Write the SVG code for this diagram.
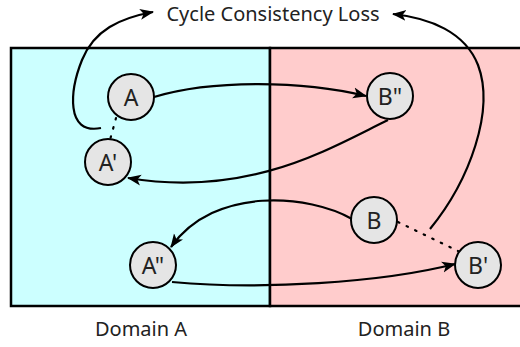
<svg xmlns="http://www.w3.org/2000/svg" width="520" height="347" viewBox="0 0 520 347">
<defs>
<marker id="arr" viewBox="0 0 14 12" refX="13" refY="6" markerWidth="14" markerHeight="12" markerUnits="userSpaceOnUse" orient="auto">
<path d="M0,0.5 L14,6 L0,11.5 L3.5,6 Z" fill="#000"/>
</marker>
<style>
.node circle{fill:#e5e5e5;stroke:#000;stroke-width:2}
.node text{font-family:"Noto Sans","DejaVu Sans",sans-serif;font-size:23px;fill:#222;text-anchor:middle;dominant-baseline:central}
.lbl{font-family:"Noto Sans","DejaVu Sans",sans-serif;font-size:20px;fill:#222;text-anchor:middle}
.e{fill:none;stroke:#000;stroke-width:2.2;marker-end:url(#arr)}
.d{fill:none;stroke:#000;stroke-width:2.2;stroke-dasharray:1.5 8;stroke-linecap:round}
</style>
</defs>
<g id="domains">
<rect x="11" y="48" width="259" height="258" fill="#ccffff" stroke="#000" stroke-width="2.5"/>
<rect x="270" y="48" width="252" height="258" fill="#ffcccc" stroke="#000" stroke-width="2.5"/>
</g>
<text class="lbl" x="273" y="21">Cycle Consistency Loss</text>
<text class="lbl" x="141" y="336">Domain A</text>
<text class="lbl" x="404" y="336">Domain B</text>
<g id="connectors">
<path class="e" d="M154,97 C210,80 300,80 366,96"/>
<path class="e" d="M388,120 C330,148 250,198 128,178"/>
<path class="e" d="M352,219 C310,195 215,185 171,247"/>
<path class="e" d="M172,282 C260,290 380,283 455,264"/>
<path class="e" d="M101,128 C65,135 70,90 82,60 C94,30 120,18 153,12"/>
<path class="e" d="M430,229 C470,180 495,110 478,65 C465,32 430,18 393,14"/>
<path class="d" d="M116,118 L110,140"/>
<path class="d" d="M398,222 L458,251"/>
</g>
<g id="A" class="node"><circle cx="131" cy="97" r="23"/><text x="131" y="97">A</text></g>
<g id="A1" class="node"><circle cx="108" cy="162" r="23"/><text x="108" y="162">A'</text></g>
<g id="B2" class="node"><circle cx="390" cy="96" r="23"/><text x="390" y="96">B"</text></g>
<g id="B" class="node"><circle cx="374" cy="220" r="23"/><text x="374" y="220">B</text></g>
<g id="B1" class="node"><circle cx="478" cy="265" r="23"/><text x="478" y="265">B'</text></g>
<g id="A2" class="node"><circle cx="153" cy="265" r="23"/><text x="153" y="265">A"</text></g>
</svg>
